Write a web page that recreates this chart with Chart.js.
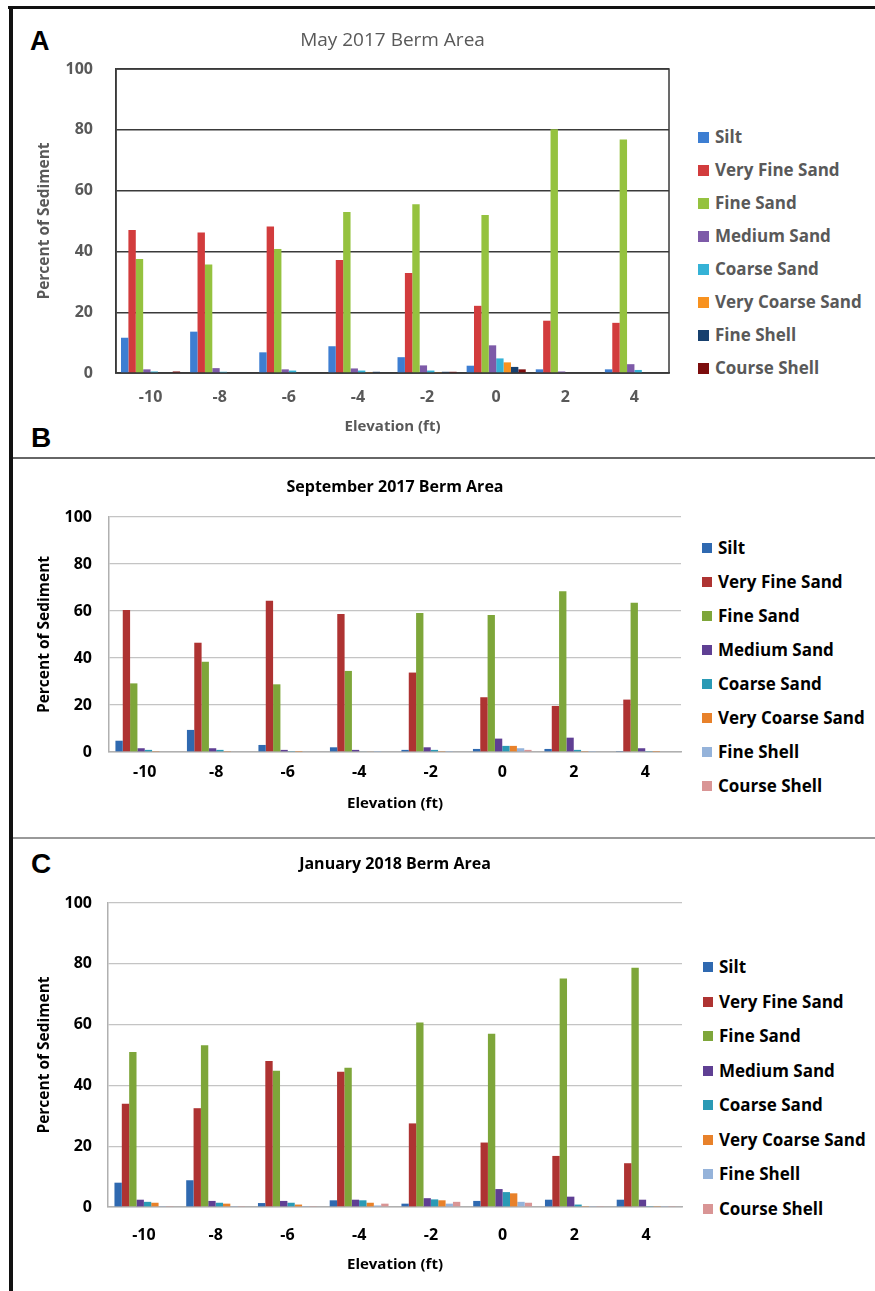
<!DOCTYPE html>
<html>
<head>
<meta charset="utf-8">
<title>Berm Area sediment</title>
<script src="https://cdn.jsdelivr.net/npm/chart.js@4.4.1/dist/chart.umd.min.js"></script>
<style>
  body { margin: 0; background: #fff; width: 875px; height: 1291px; position: relative; overflow: hidden; }
  canvas { position: absolute; }
  .rule { position: absolute; }
  .letter { position: absolute; font-family: "Liberation Sans", Arial, sans-serif; font-weight: bold; color: #000; line-height: 1; }
  .legend { position: absolute; left: 0; top: 0; }
  .legend .item { position: absolute; white-space: nowrap; font-family: "Open Sans", sans-serif; font-weight: bold; font-size: 17px; line-height: 18px; }
  .legend .sw { position: absolute; left: 0; }
</style>
</head>
<body>

<div class="rule" style="left:8px; top:6px; width:867px; height:3px; background:#111;"></div>
<div class="rule" style="left:9px; top:6px; width:4px; height:1285px; background:#111;"></div>
<div class="rule" style="left:13px; top:457px; width:862px; height:2px; background:#666;"></div>
<div class="rule" style="left:13px; top:837px; width:862px; height:1.5px; background:#999;"></div>

<div class="letter" style="left:30px; top:28px; font-size:27px;">A</div>
<div class="letter" style="left:31px; top:424px; font-size:28px;">B</div>
<div class="letter" style="left:31px; top:850px; font-size:28px;">C</div>

<canvas id="chartA" width="676" height="446" style="left:14px; top:10px;"></canvas>
<canvas id="chartB" width="676" height="372" style="left:14px; top:462px;"></canvas>
<canvas id="chartC" width="676" height="449" style="left:14px; top:842px;"></canvas>
<div id="legendA" class="legend"></div>
<div id="legendB" class="legend"></div>
<div id="legendC" class="legend"></div>

<script>
// ---- Data ----
const elevations = ["-10", "-8", "-6", "-4", "-2", "0", "2", "4"];
const classes = ["Silt", "Very Fine Sand", "Fine Sand", "Medium Sand", "Coarse Sand",
                 "Very Coarse Sand", "Fine Shell", "Course Shell"];

// percent of sediment, one row per class (same order as classes)
const may2017 = [
  [11.6, 13.6, 6.8, 8.8, 5.2, 2.4, 1.2, 1.2],
  [47.0, 46.2, 48.2, 37.2, 32.9, 22.1, 17.2, 16.5],
  [37.5, 35.7, 40.8, 53.0, 55.5, 52.0, 80.2, 76.8],
  [1.2, 1.6, 1.2, 1.5, 2.5, 9.1, 0.5, 2.9],
  [0.5, 0.4, 0.8, 0.8, 0.8, 4.8, 0, 1.0],
  [0, 0, 0, 0.3, 0.3, 3.5, 0, 0],
  [0, 0, 0, 0.4, 0.4, 2.0, 0, 0],
  [0.5, 0, 0, 0, 0.4, 1.2, 0, 0]
];
const sep2017 = [
  [4.8, 9.4, 3.0, 2.0, 0.9, 1.3, 1.3, 0.4],
  [60.4, 46.5, 64.4, 58.7, 33.8, 23.3, 19.6, 22.3],
  [29.2, 38.4, 28.8, 34.5, 59.1, 58.3, 68.4, 63.5],
  [1.6, 1.6, 0.9, 0.9, 2.0, 5.7, 6.1, 1.6],
  [0.9, 0.9, 0.4, 0.3, 0.9, 2.6, 0.9, 0.4],
  [0.4, 0.4, 0.1, 0.3, 0.4, 2.6, 0.4, 0.1],
  [0, 0, 0, 0.1, 0.1, 1.6, 0.1, 0],
  [0, 0, 0, 0, 0, 0.9, 0, 0]
];
const jan2018 = [
  [8.0, 8.8, 1.3, 2.2, 1.1, 2.0, 2.4, 2.4],
  [34.0, 32.5, 48.0, 44.5, 27.5, 21.2, 16.8, 14.4],
  [51.0, 53.2, 44.8, 45.8, 60.7, 57.0, 75.2, 78.7],
  [2.4, 2.0, 2.0, 2.4, 2.9, 5.9, 3.4, 2.4],
  [1.7, 1.4, 1.4, 2.2, 2.5, 4.9, 0.8, 0.3],
  [1.4, 1.1, 0.8, 1.4, 2.2, 4.5, 0.3, 0.3],
  [0.3, 0.3, 0.3, 0.5, 1.1, 1.7, 0.3, 0.3],
  [0.3, 0.3, 0.3, 1.1, 1.7, 1.4, 0.3, 0.3]
];

const yTicks = [0, 20, 40, 60, 80, 100];

// palettes: panel A is the brighter Excel look, B and C the darker one
const colorsA = ["#3D7ED2", "#D23C3D", "#95C23F", "#7D5AA8", "#35B2D6", "#F8921F", "#17406E", "#7C0D0D"];
const colorsBC = ["#2F69B0", "#AE3332", "#7EA63A", "#5F3F93", "#2A9AB5", "#E8812A", "#95B3DA", "#D99595"];

const FONT = '"Open Sans", sans-serif';

// ---- Helpers ----
function makeDatasets(rows, colors, groupWidth) {
  return classes.map((name, i) => ({
    label: name,
    data: rows[i],
    backgroundColor: colors[i],
    borderWidth: 0,
    categoryPercentage: groupWidth,
    barPercentage: 1
  }));
}

// draws the closed box round the plot (panel A only)
const framePlugin = {
  id: "frame",
  beforeDatasetsDraw(chart, args, opts) {
    if (!opts.color) return;
    const a = chart.chartArea;
    const ctx = chart.ctx;
    ctx.save();
    ctx.strokeStyle = opts.color;
    ctx.lineWidth = opts.width || 1;
    ctx.strokeRect(a.left, a.top, a.right - a.left, a.bottom - a.top);
    ctx.restore();
  }
};

function buildChart(id, rows, p) {
  const ctx = document.getElementById(id).getContext("2d");
  return new Chart(ctx, {
    type: "bar",
    data: { labels: elevations, datasets: makeDatasets(rows, p.colors, p.groupWidth) },
    plugins: [framePlugin],
    options: {
      responsive: false,
      animation: false,
      events: [],
      layout: { padding: { left: 0, top: 0, right: p.padRight, bottom: p.padBottom } },
      plugins: {
        legend: { display: false },
        tooltip: { enabled: false },
        frame: { color: p.frameColor, width: 1.5 },
        title: {
          display: true,
          fullSize: false,
          text: p.title,
          color: p.titleColor,
          font: { family: FONT, size: p.titleSize, weight: p.titleWeight },
          padding: { top: p.titleTop, bottom: p.titleBottom }
        }
      },
      scales: {
        x: {
          grid: { display: false, drawTicks: false },
          border: { display: true, color: p.axisColor, width: 1.5 },
          ticks: { color: p.textColor, padding: p.xTickPad, font: { family: FONT, size: 16, weight: "bold" } },
          title: {
            display: true, text: "Elevation (ft)", color: p.textColor,
            font: { family: FONT, size: 15, weight: "bold" }, padding: { top: 4, bottom: 4 }
          },
          afterFit(s) { s.height = p.xHeight; }
        },
        y: {
          min: 0, max: 100,
          afterBuildTicks(s) { s.ticks = yTicks.map(v => ({ value: v })); },
          grid: { color: p.gridColor, lineWidth: p.gridWidth, drawTicks: false },
          border: { display: true, color: p.axisColor, width: 1.5 },
          ticks: { color: p.textColor, padding: p.yTickPad, font: { family: FONT, size: 16, weight: "bold" } },
          title: {
            display: true, text: "Percent of Sediment", color: p.textColor,
            font: { family: FONT, size: 15.5, weight: "bold" }, padding: { top: p.yTitlePad, bottom: 4 }
          },
          afterFit(s) { s.width = p.yWidth; }
        }
      }
    }
  });
}

function buildLegend(id, colors, l) {
  const box = document.getElementById(id);
  classes.forEach((name, i) => {
    const item = document.createElement("div");
    item.className = "item";
    item.style.left = l.x + "px";
    item.style.top = (l.y0 + i * l.step - 9) + "px";
    item.style.color = l.color;
    item.style.paddingLeft = l.textOffset + "px";
    const sw = document.createElement("span");
    sw.className = "sw";
    sw.style.width = l.size + "px";
    sw.style.height = l.size + "px";
    sw.style.top = (9 - l.size / 2) + "px";
    sw.style.background = colors[i];
    item.appendChild(sw);
    item.appendChild(document.createTextNode(name));
    box.appendChild(item);
  });
}

// ---- Panels ----
buildChart("chartA", may2017, {
  colors: colorsA, groupWidth: 0.855,
  title: "May 2017 Berm Area", titleColor: "#595959", titleSize: 19, titleWeight: "normal",
  titleTop: 19, titleBottom: 17.2,
  textColor: "#595959", axisColor: "#3a3a3a", gridColor: "#3a3a3a", gridWidth: 1.4, frameColor: "#3a3a3a",
  padRight: 21, padBottom: 16.6, xHeight: 66.4, yWidth: 102,
  xTickPad: 15, yTickPad: 23, yTitlePad: 21
});
buildChart("chartB", sep2017, {
  colors: colorsBC, groupWidth: 0.82,
  title: "September 2017 Berm Area", titleColor: "#000", titleSize: 16, titleWeight: "bold",
  titleTop: 15.4, titleBottom: 20.4,
  textColor: "#000", axisColor: "#b0b0b0", gridColor: "#c4c4c4", gridWidth: 1.3, frameColor: null,
  padRight: 9, padBottom: 17.6, xHeight: 64.4, yWidth: 95,
  xTickPad: 11, yTickPad: 17, yTitlePad: 21
});
buildChart("chartC", jan2018, {
  colors: colorsBC, groupWidth: 0.82,
  title: "January 2018 Berm Area", titleColor: "#000", titleSize: 16, titleWeight: "bold",
  titleTop: 12.4, titleBottom: 29.4,
  textColor: "#000", axisColor: "#b0b0b0", gridColor: "#c4c4c4", gridWidth: 1.3, frameColor: null,
  padRight: 8, padBottom: 13.6, xHeight: 70.4, yWidth: 94,
  xTickPad: 19, yTickPad: 16, yTitlePad: 21
});

buildLegend("legendA", colorsA, { x: 698, y0: 137, step: 33, size: 11, textOffset: 17, color: "#595959" });
buildLegend("legendB", colorsBC, { x: 702, y0: 548, step: 34, size: 10, textOffset: 16, color: "#000" });
buildLegend("legendC", colorsBC, { x: 703, y0: 967, step: 34.5, size: 10, textOffset: 16, color: "#000" });
</script>
</body>
</html>
